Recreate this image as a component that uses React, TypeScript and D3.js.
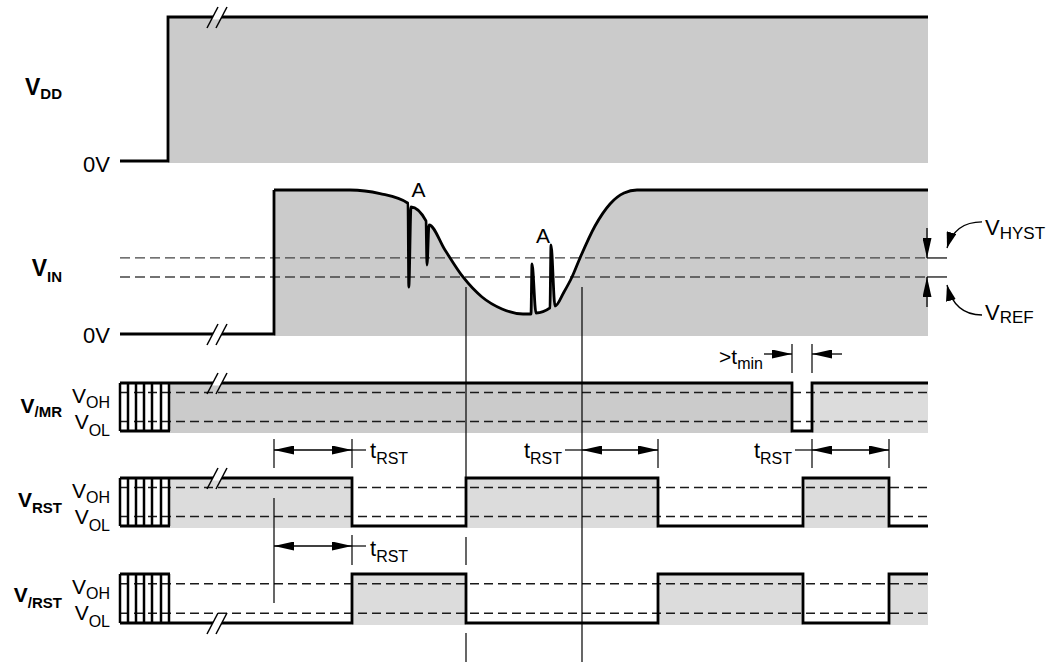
import * as d3 from "d3"

// time axis in arbitrary units, level axis normalised 0..1
const T_END = 202
const vddRiseT = 12
const vinRiseT = 38.5
const vinCurve: [number, number][] = [
  [38.5, 1], [57.5, 1], [65, 0.975], [72, 0.908], [72.2, 0.326], [72.75, 0.882],
  [76.5, 0.785], [76.75, 0.479], [77.25, 0.757], [81.25, 0.583], [85.75, 0.396],
  [90.5, 0.257], [95.5, 0.174], [100.75, 0.139], [102.75, 0.139], [103, 0.486],
  [104, 0.146], [107.5, 0.181], [107.75, 0.618], [108.75, 0.194], [111, 0.292],
  [113, 0.396], [115, 0.528], [118.75, 0.75], [122.5, 0.903], [126, 0.979],
  [129.25, 1], [202, 1],
]
const vinRef = 0.396
const vinHyst = 0.528
const glitchLabels: [number, number][] = [[74.6, 0.951], [105.75, 0.632]]

const mrSteps: [number, number][] = [[12.5, 1], [168, 0], [173, 1]]
const rstSteps: [number, number][] = [[12.5, 1], [58, 0], [86.5, 1], [134.5, 0], [170.75, 1], [192.25, 0]]
const nrstSteps: [number, number][] = [[12.5, 0], [58, 1], [86.5, 0], [134.5, 1], [170.75, 0], [192.25, 1]]
const outLevels = [0.8, 0.2] // VOH, VOL

const hatchT = [0, 2, 4, 6, 8, 10.25, 12.25]
const breakT = 24.25
const tRstSpans: [number, number][] = [[38.5, 58], [115.5, 134.5], [173, 192.25]]
const tRstSpan2: [number, number] = [38.5, 58]
const tMinSpan: [number, number] = [168, 173]

const FONT = "'Liberation Sans', Arial, Helvetica, sans-serif"
const ROWS = {
  vdd: { lo: 161, hi: 17 },
  vin: { lo: 334, hi: 190 },
  mr: { lo: 431, hi: 383 },
  rst: { lo: 526, hi: 478 },
  nrst: { lo: 623, hi: 574 },
}

const x = d3.scaleLinear().domain([0, T_END]).range([120, 928])
const yOf = (r: { lo: number; hi: number }) => d3.scaleLinear().domain([0, 1]).range([r.lo, r.hi])

function Sub({ x, y, main, sub, size = 20, subSize = 15, bold = false, anchor = "start", dy = 6 }: any) {
  return (
    <text x={x} y={y} fontFamily={FONT} fontSize={size} fontWeight={bold ? "bold" : "normal"} textAnchor={anchor}>
      {main}
      <tspan fontSize={subSize} dy={dy}>{sub}</tspan>
    </text>
  )
}

function Break({ cx, cy }: { cx: number; cy: number }) {
  return (
    <g>
      <polygon points={`${cx - 5.5},${cy + 2.5} ${cx - 3},${cy - 2.5} ${cx + 6},${cy - 2.5} ${cx + 3.5},${cy + 2.5}`} fill="#fff" />
      <line x1={cx - 10} y1={cy + 11} x2={cx + 1} y2={cy - 10} stroke="#000" strokeWidth={1.5} />
      <line x1={cx - 1} y1={cy + 11} x2={cx + 10} y2={cy - 10} stroke="#000" strokeWidth={1.5} />
    </g>
  )
}

function segments(steps: [number, number][]) {
  return steps.map((s, i) => ({ t0: s[0], t1: i < steps.length - 1 ? steps[i + 1][0] : T_END, v: s[1] }))
}

function Digital({ steps, row, shades, breakTop }: any) {
  const y = yOf(row)
  const pts = [...steps, [T_END, steps[steps.length - 1][1]]] as [number, number][]
  const path = d3.line<[number, number]>().x((d) => x(d[0])).y((d) => y(d[1])).curve(d3.curveStepAfter)(pts)!
  const highs = segments(steps).filter((s) => s.v === 1)
  return (
    <g>
      {highs.map((s, i) => (
        <rect key={i} x={x(s.t0)} y={y(1)} width={x(s.t1) - x(s.t0)} height={y(0) - y(1) + 2} fill={shades[Math.min(i, shades.length - 1)]} />
      ))}
      {outLevels.map((l) => (
        <line key={l} x1={x(0)} x2={x(T_END)} y1={y(l)} y2={y(l)} stroke="#1a1a1a" strokeWidth={1.5} strokeDasharray="9,5" />
      ))}
      {/* undefined start region */}
      <line x1={x(0)} x2={x(12.5)} y1={y(1)} y2={y(1)} stroke="#000" strokeWidth={2.8} />
      <line x1={x(0)} x2={x(12.5)} y1={y(0)} y2={y(0)} stroke="#000" strokeWidth={2.8} />
      {hatchT.map((t) => (
        <line key={t} x1={x(t)} x2={x(t)} y1={y(1)} y2={y(0)} stroke="#000" strokeWidth={2.5} />
      ))}
      <path d={path} fill="none" stroke="#000" strokeWidth={2.8} />
      <Break cx={x(breakT)} cy={breakTop ? y(1) : y(0)} />
    </g>
  )
}

function Arrow({ x1, x2, y, both = true }: any) {
  return (
    <line x1={x1} x2={x2} y1={y} y2={y} stroke="#000" strokeWidth={1.3}
      markerEnd="url(#ah)" markerStart={both ? "url(#ah)" : undefined} />
  )
}

function VLine({ t, y1, y2 }: any) {
  return <line x1={x(t)} x2={x(t)} y1={y1} y2={y2} stroke="#000" strokeWidth={1.2} />
}

export default function App() {
  const yVdd = yOf(ROWS.vdd)
  const yVin = yOf(ROWS.vin)
  const yMr = yOf(ROWS.mr)
  const yRst = yOf(ROWS.rst)
  const yNrst = yOf(ROWS.nrst)

  const vinLine = d3.line<[number, number]>().x((d) => x(d[0])).y((d) => yVin(d[1])).curve(d3.curveMonotoneX)
  const vinArea = d3.area<[number, number]>().x((d) => x(d[0])).y0(yVin(0) + 2).y1((d) => yVin(d[1])).curve(d3.curveMonotoneX)

  const yHyst = yVin(vinHyst)
  const yRef = yVin(vinRef)
  const X = x(T_END) - 1

  const r1 = ROWS.mr.lo + 19
  const r2 = ROWS.rst.lo + 20
  const rm = ROWS.mr.hi - 29
  const gTop = yRef + 10

  return (
    <svg width={1057} height={663} style={{ position: "absolute", left: 0, top: 0, background: "#fff" }}>
      <defs>
        <marker id="ah" viewBox="0 0 20 9" refX={20} refY={4.5} markerWidth={20} markerHeight={9}
          markerUnits="userSpaceOnUse" orient="auto-start-reverse">
          <path d="M0,0L20,4.5L0,9Z" fill="#000" />
        </marker>
        <marker id="ahs" viewBox="0 0 16 10" refX={16} refY={5} markerWidth={16} markerHeight={10}
          markerUnits="userSpaceOnUse" orient="auto">
          <path d="M0,0L16,5L0,10Z" fill="#000" />
        </marker>
      </defs>

      {/* VDD */}
      <rect x={x(vddRiseT)} y={yVdd(1)} width={x(T_END) - x(vddRiseT)} height={yVdd(0) - yVdd(1) + 2} fill="#cbcbcb" />
      <path d={`M${x(0)},${yVdd(0)}H${x(vddRiseT)}V${yVdd(1)}H${x(T_END)}`} fill="none" stroke="#000" strokeWidth={2.8} />
      <Break cx={x(breakT)} cy={yVdd(1)} />
      <Sub x={62} y={95} main="V" sub="DD" size={23} subSize={15} bold anchor="end" dy={4} />
      <text x={110} y={yVdd(0) + 11} fontFamily={FONT} fontSize={22} textAnchor="end">0V</text>

      {/* VIN */}
      <path d={vinArea(vinCurve)!} fill="#cbcbcb" />
      {[vinHyst, vinRef].map((l) => (
        <g key={l}>
          <line x1={x(0)} x2={X} y1={yVin(l)} y2={yVin(l)} stroke="#444" strokeWidth={1.3} strokeDasharray="10,5" />
          <line x1={X} x2={X + 20} y1={yVin(l)} y2={yVin(l)} stroke="#000" strokeWidth={1.2} />
        </g>
      ))}
      <path d={`M${x(0)},${yVin(0)}H${x(vinRiseT)}V${yVin(1)}`} fill="none" stroke="#000" strokeWidth={2.8} />
      <path d={vinLine(vinCurve)!} fill="none" stroke="#000" strokeWidth={2.8} />
      <Break cx={x(breakT)} cy={yVin(0)} />
      {glitchLabels.map(([t, v], i) => (
        <text key={i} x={x(t)} y={yVin(v)} fontFamily={FONT} fontSize={21} textAnchor="middle">A</text>
      ))}
      <Sub x={62} y={276} main="V" sub="IN" size={23} subSize={15} bold anchor="end" dy={6} />
      <text x={110} y={yVin(0) + 9} fontFamily={FONT} fontSize={22} textAnchor="end">0V</text>

      {/* hysteresis markers */}
      <line x1={X} x2={X} y1={yHyst - 30} y2={yHyst} stroke="#000" strokeWidth={1.3} markerEnd="url(#ah)" />
      <line x1={X} x2={X} y1={yRef + 30} y2={yRef} stroke="#000" strokeWidth={1.3} markerEnd="url(#ah)" />
      <path d={`M${X + 55},${yHyst - 36} C${X + 36},${yHyst - 36} ${X + 25},${yHyst - 27} ${X + 20},${yHyst - 10}`}
        fill="none" stroke="#000" strokeWidth={1.3} markerEnd="url(#ahs)" />
      <path d={`M${X + 55},${yRef + 38} C${X + 36},${yRef + 38} ${X + 25},${yRef + 28} ${X + 20},${yRef + 8}`}
        fill="none" stroke="#000" strokeWidth={1.3} markerEnd="url(#ahs)" />
      <Sub x={X + 58} y={yHyst - 23} main="V" sub="HYST" size={22} subSize={17} dy={4} />
      <Sub x={X + 58} y={yRef + 43} main="V" sub="REF" size={22} subSize={17} dy={3} />

      {/* digital rows */}
      <Digital steps={mrSteps} row={ROWS.mr} shades={["#cbcbcb", "#dcdcdc"]} breakTop />
      <Digital steps={rstSteps} row={ROWS.rst} shades={["#dcdcdc"]} breakTop />
      <Digital steps={nrstSteps} row={ROWS.nrst} shades={["#dcdcdc"]} breakTop={false} />

      <Sub x={62} y={413} main="V" sub="/MR" size={21} subSize={15} bold anchor="end" dy={4} />
      <Sub x={62} y={507} main="V" sub="RST" size={21} subSize={15} bold anchor="end" dy={6} />
      <Sub x={62} y={602} main="V" sub="/RST" size={21} subSize={15} bold anchor="end" dy={6} />
      {[yMr, yRst, yNrst].map((y, i) => (
        <g key={i}>
          <Sub x={110} y={y(1) + 20} main="V" sub="OH" size={21} subSize={16} anchor="end" dy={5} />
          <Sub x={110} y={y(1) + 46} main="V" sub="OL" size={21} subSize={16} anchor="end" dy={7} />
        </g>
      ))}

      {/* guide lines */}
      <VLine t={rstSteps[2][0]} y1={gTop} y2={yRst(0) + 1} />
      <VLine t={rstSteps[2][0]} y1={ROWS.rst.lo + 11} y2={ROWS.rst.lo + 39} />
      <VLine t={rstSteps[2][0]} y1={ROWS.nrst.lo + 10} y2={ROWS.nrst.lo + 39} />
      <VLine t={tRstSpans[1][0]} y1={gTop} y2={ROWS.nrst.lo + 39} />
      <VLine t={tRstSpan2[0]} y1={ROWS.rst.hi + 20} y2={ROWS.nrst.hi + 29} />

      {/* tRST timing, row 1 */}
      {[tRstSpans[0][0], tRstSpans[0][1], tRstSpans[1][1], tRstSpans[2][0], tRstSpans[2][1]].map((t, i) => (
        <VLine key={i} t={t} y1={r1 - 11} y2={r1 + 18} />
      ))}
      {tRstSpans.map(([a, b], i) => (
        <Arrow key={i} x1={x(a)} x2={x(b)} y={r1} />
      ))}
      <line x1={x(tRstSpans[0][1])} x2={x(tRstSpans[0][1]) + 14} y1={r1} y2={r1} stroke="#000" strokeWidth={1.2} />
      <Sub x={x(tRstSpans[0][1]) + 18} y={r1 + 8} main="t" sub="RST" size={22} subSize={16} dy={6} />
      <line x1={x(tRstSpans[1][0]) - 17} x2={x(tRstSpans[1][0])} y1={r1} y2={r1} stroke="#000" strokeWidth={1.2} />
      <Sub x={x(tRstSpans[1][0]) - 20} y={r1 + 8} main="t" sub="RST" size={22} subSize={16} anchor="end" dy={6} />
      <line x1={x(tRstSpans[2][0]) - 17} x2={x(tRstSpans[2][0])} y1={r1} y2={r1} stroke="#000" strokeWidth={1.2} />
      <Sub x={x(tRstSpans[2][0]) - 20} y={r1 + 8} main="t" sub="RST" size={22} subSize={16} anchor="end" dy={6} />

      {/* tRST timing, row 2 */}
      <VLine t={tRstSpan2[1]} y1={r2 - 11} y2={r2 + 19} />
      <Arrow x1={x(tRstSpan2[0])} x2={x(tRstSpan2[1])} y={r2} />
      <line x1={x(tRstSpan2[1])} x2={x(tRstSpan2[1]) + 14} y1={r2} y2={r2} stroke="#000" strokeWidth={1.2} />
      <Sub x={x(tRstSpan2[1]) + 18} y={r2 + 10} main="t" sub="RST" size={22} subSize={16} dy={6} />

      {/* tmin */}
      <VLine t={tMinSpan[0]} y1={rm - 10} y2={rm + 19} />
      <VLine t={tMinSpan[1]} y1={rm - 10} y2={rm + 19} />
      <Arrow x1={x(tMinSpan[0]) - 28} x2={x(tMinSpan[0])} y={rm} both={false} />
      <Arrow x1={x(tMinSpan[1]) + 30} x2={x(tMinSpan[1])} y={rm} both={false} />
      <Sub x={x(tMinSpan[0]) - 29} y={rm + 10} main=">t" sub="min" size={21} subSize={16} anchor="end" dy={5} />
    </svg>
  )
}
